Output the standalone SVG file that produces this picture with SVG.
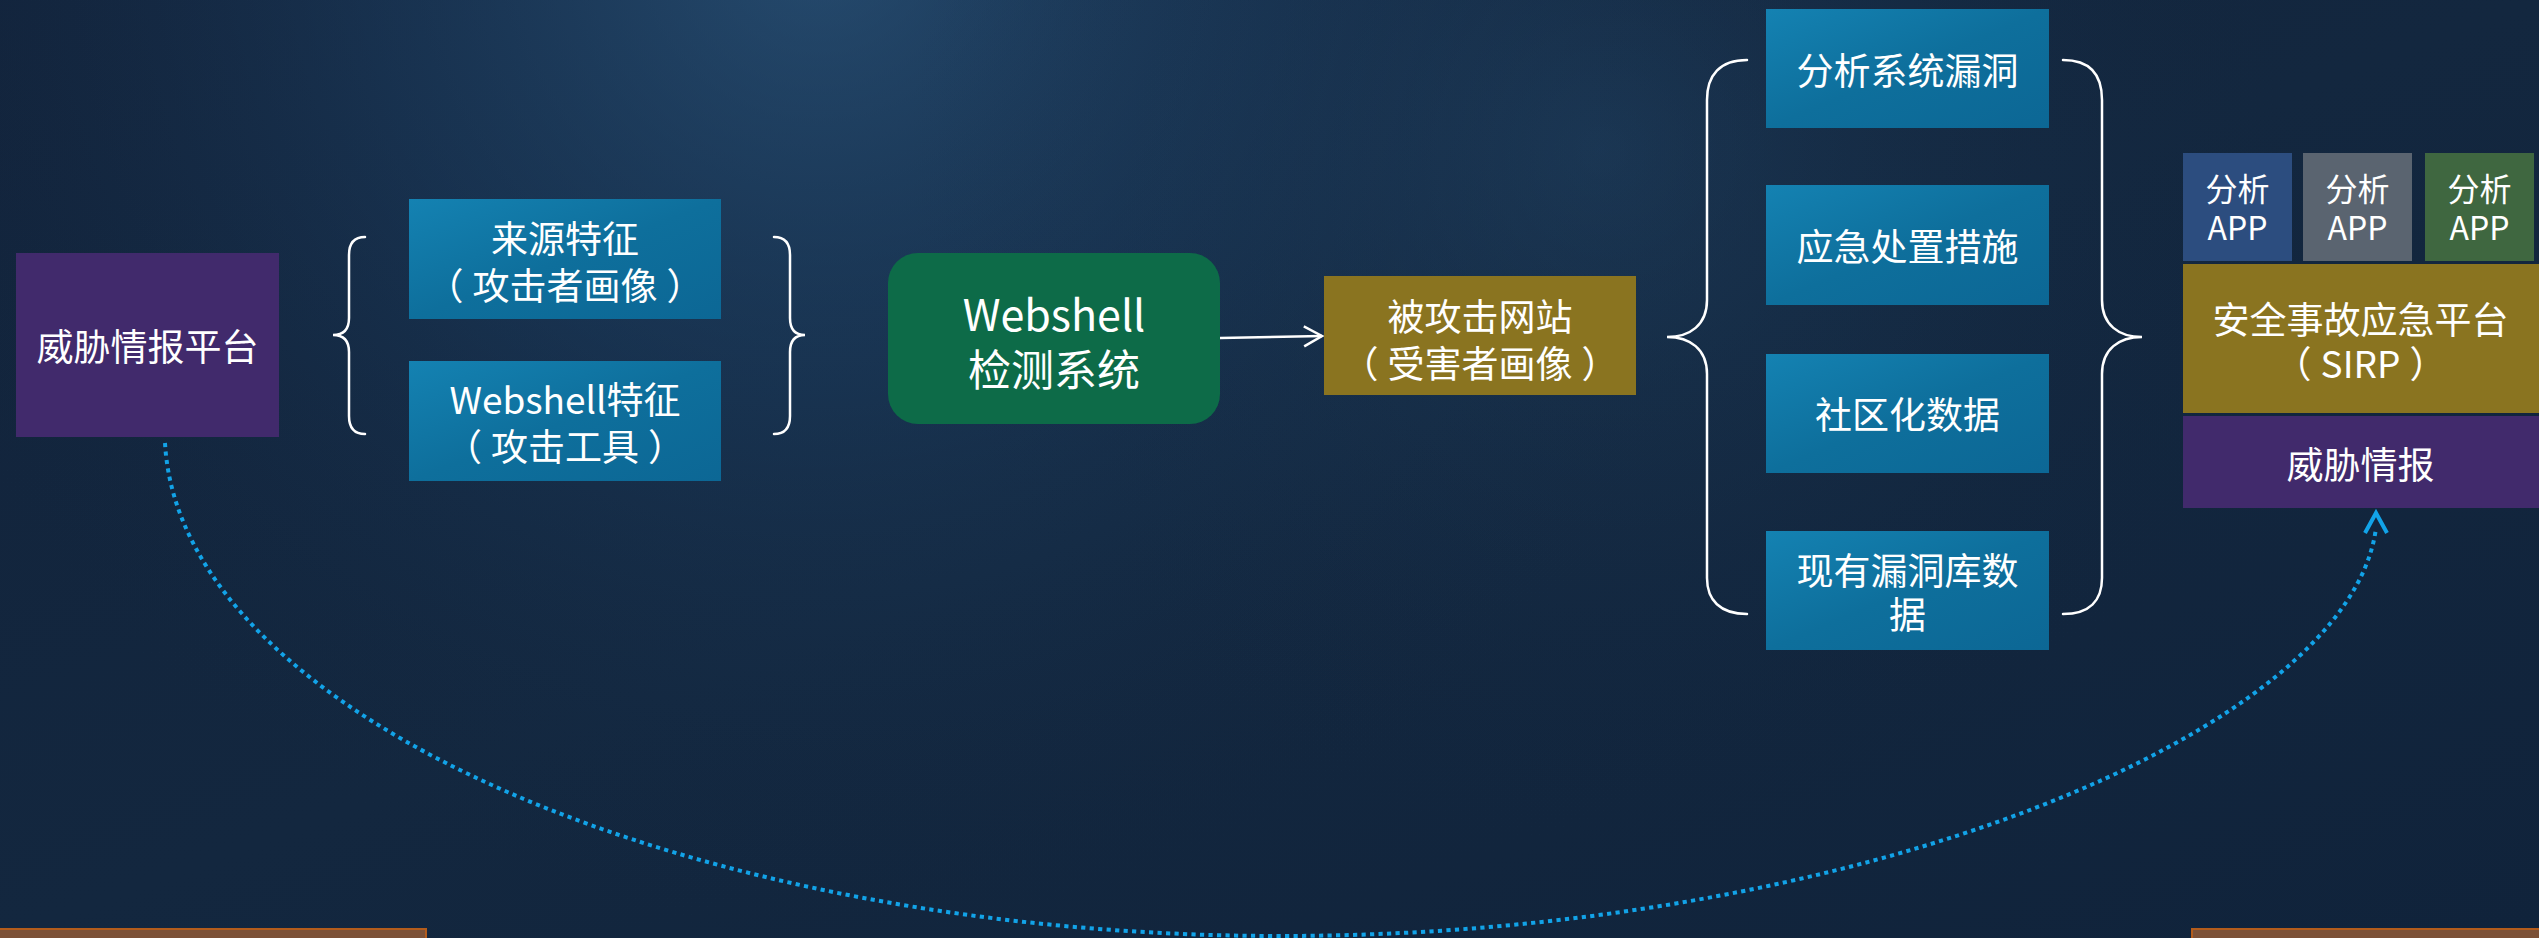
<svg xmlns="http://www.w3.org/2000/svg" width="2539" height="938" viewBox="0 0 2539 938">
  <defs>
    <linearGradient id="bg" x1="0" y1="0" x2="1" y2="1">
      <stop offset="0" stop-color="#12233b"/>
      <stop offset="0.5" stop-color="#13273f"/>
      <stop offset="1" stop-color="#10233b"/>
    </linearGradient>
    <radialGradient id="glow1" cx="820" cy="-60" r="1000" gradientUnits="userSpaceOnUse">
      <stop offset="0" stop-color="#356a97" stop-opacity="0.55"/>
      <stop offset="0.45" stop-color="#24507a" stop-opacity="0.3"/>
      <stop offset="1" stop-color="#13273f" stop-opacity="0"/>
    </radialGradient>
    <radialGradient id="glow2" cx="1600" cy="150" r="700" gradientUnits="userSpaceOnUse">
      <stop offset="0" stop-color="#2b587f" stop-opacity="0.3"/>
      <stop offset="1" stop-color="#13273f" stop-opacity="0"/>
    </radialGradient>
    <linearGradient id="blueBox" x1="0" y1="0" x2="1" y2="1">
      <stop offset="0" stop-color="#1482b2"/>
      <stop offset="0.5" stop-color="#0e6f9c"/>
      <stop offset="1" stop-color="#0c6795"/>
    </linearGradient>
    <marker id="openArrow" markerWidth="24" markerHeight="24" refX="20" refY="12" orient="auto" markerUnits="userSpaceOnUse">
      <path d="M2,2 L20,12 L2,22" fill="none" stroke="#ffffff" stroke-width="2.5" stroke-linejoin="miter"/>
    </marker>
    <marker id="blueArrow" markerWidth="30" markerHeight="30" refX="7" refY="15" orient="270" markerUnits="userSpaceOnUse">
      <path d="M2,4 L22,15 L2,26" fill="none" stroke="#12a3e8" stroke-width="4" stroke-linejoin="miter"/>
    </marker>
    <style>
      .t { font-family: "Noto Sans CJK SC", "Noto Sans", sans-serif; fill: #ffffff; text-anchor: middle; dominant-baseline: central; }
      .f37 { font-size: 37px; }
      .f43 { font-size: 43px; }
      .f32 { font-size: 32px; }
      .brace { fill: none; stroke: #ffffff; stroke-width: 2.5; stroke-linecap: round; }
      .blue { fill: url(#blueBox); }
      .purple { fill: #412a6c; }
      .gold { fill: #8a7420; }
      .bar { fill: #7c5137; stroke: #b35c1c; stroke-width: 2; }
    </style>
  </defs>

  <!-- background -->
  <rect x="0" y="0" width="2539" height="938" fill="url(#bg)"/>
  <rect x="0" y="0" width="2539" height="938" fill="url(#glow1)"/>
  <rect x="0" y="0" width="2539" height="938" fill="url(#glow2)"/>

  <!-- bottom bars -->
  <rect class="bar" x="-2" y="929" width="428" height="14"/>
  <rect class="bar" x="2192" y="929" width="350" height="14"/>

  <!-- braces -->
  <g id="braces">
    <path class="brace" d="M365,237 Q349,237 349,255 L349,318 Q349,335 333,335 Q349,335 349,352 L349,416 Q349,434 365,434"/>
    <path class="brace" d="M774,237 Q790,237 790,255 L790,318 Q790,335 805,335 Q790,335 790,352 L790,416 Q790,434 774,434"/>
    <path class="brace" d="M1747,60 C1720,60 1707,75 1707,100 L1707,300 C1707,325 1690,337 1667,337 C1690,337 1707,349 1707,374 L1707,578 C1707,600 1720,614 1747,614"/>
    <path class="brace" d="M2063,60 C2090,60 2102,75 2102,100 L2102,300 C2102,325 2119,337 2142,337 C2119,337 2102,349 2102,374 L2102,578 C2102,600 2090,614 2063,614"/>
  </g>

  <!-- connectors -->
  <g id="connectors">
    <path d="M1220,338 L1322,336" fill="none" stroke="#ffffff" stroke-width="2.5" marker-end="url(#openArrow)"/>
    <path d="M165,443 C180,720 700,936 1280,936 C1860,936 2350,730 2376,528" fill="none" stroke="#12a3e8" stroke-width="4" stroke-dasharray="4.2 4.3" marker-end="url(#blueArrow)"/>
  </g>

  <g id="threat-platform">
    <rect class="purple" x="16" y="253" width="263" height="184"/>
    <text class="t f37" x="147.5" y="345">威胁情报平台</text>
  </g>

  <g id="source-feature">
    <rect class="blue" x="409" y="199" width="312" height="120"/>
    <text class="t f37" x="565" y="237">来源特征</text>
    <text class="t f37" x="565" y="284" dx="0 9 0 0 0 0 9">（攻击者画像）</text>
  </g>

  <g id="webshell-feature">
    <rect class="blue" x="409" y="361" width="312" height="120"/>
    <text class="t f37" x="565" y="398">Webshell特征</text>
    <text class="t f37" x="565" y="445" dx="0 9 0 0 0 9">（攻击工具）</text>
  </g>

  <g id="webshell-detect">
    <rect x="888" y="253" width="332" height="171" rx="30" ry="30" fill="#0d6b48"/>
    <text class="t f43" x="1054" y="312">Webshell</text>
    <text class="t f43" x="1054" y="367">检测系统</text>
  </g>

  <g id="victim-site">
    <rect class="gold" x="1324" y="276" width="312" height="119"/>
    <text class="t f37" x="1480" y="315">被攻击网站</text>
    <text class="t f37" x="1480" y="362" dx="0 9 0 0 0 0 9">（受害者画像）</text>
  </g>

  <g id="analyze-vuln">
    <rect class="blue" x="1766" y="9" width="283" height="119"/>
    <text class="t f37" x="1907.5" y="69">分析系统漏洞</text>
  </g>

  <g id="emergency">
    <rect class="blue" x="1766" y="185" width="283" height="120"/>
    <text class="t f37" x="1907.5" y="245">应急处置措施</text>
  </g>

  <g id="community">
    <rect class="blue" x="1766" y="354" width="283" height="119"/>
    <text class="t f37" x="1907.5" y="413">社区化数据</text>
  </g>

  <g id="vuln-db">
    <rect class="blue" x="1766" y="531" width="283" height="119"/>
    <text class="t f37" x="1907.5" y="569">现有漏洞库数</text>
    <text class="t f37" x="1907.5" y="613">据</text>
  </g>

  <g id="app1">
    <rect x="2183" y="153" width="109" height="108" fill="#2c4d7f"/>
    <text class="t f32" x="2237.5" y="187">分析</text>
    <text class="t f32" x="2237.5" y="226">APP</text>
  </g>

  <g id="app2">
    <rect x="2303" y="153" width="109" height="108" fill="#5a6470"/>
    <text class="t f32" x="2357.5" y="187">分析</text>
    <text class="t f32" x="2357.5" y="226">APP</text>
  </g>

  <g id="app3">
    <rect x="2425" y="153" width="109" height="108" fill="#3f6740"/>
    <text class="t f32" x="2479.5" y="187">分析</text>
    <text class="t f32" x="2479.5" y="226">APP</text>
  </g>

  <g id="sirp">
    <rect class="gold" x="2183" y="264" width="356" height="149"/>
    <text class="t f37" x="2360.5" y="318">安全事故应急平台</text>
    <text class="t f37" x="2360.5" y="362" dx="0 9 0 0 0 9">（SIRP）</text>
  </g>

  <g id="threat-intel">
    <rect class="purple" x="2183" y="416" width="356" height="92"/>
    <text class="t f37" x="2360.5" y="463">威胁情报</text>
  </g>
</svg>
